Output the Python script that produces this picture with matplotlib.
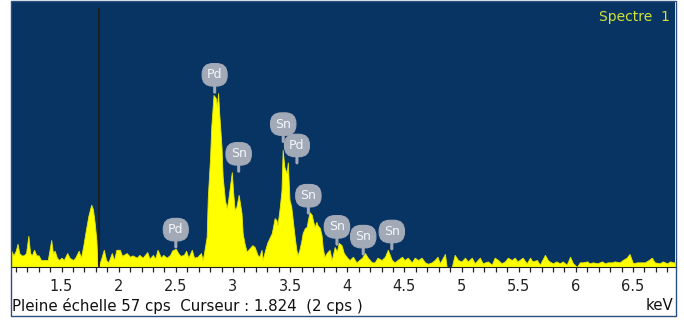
import matplotlib
matplotlib.use("Agg")
import matplotlib.pyplot as plt
from matplotlib.patches import Rectangle
from matplotlib.ticker import MultipleLocator

plt.rcParams['font.family'] = ['DejaVu Sans']

# spectrum: energy (keV) / counts (cps)
energy = [1.06, 1.08, 1.10, 1.115, 1.13, 1.15, 1.17, 1.19, 1.21, 1.225, 1.24, 1.26, 1.28, 1.30,
          1.32, 1.35, 1.38, 1.41, 1.425, 1.44, 1.46, 1.48, 1.50, 1.52, 1.55, 1.57, 1.60, 1.62,
          1.65, 1.67, 1.69, 1.71, 1.735, 1.76, 1.775, 1.79, 1.805, 1.815, 1.83, 1.85, 1.87, 1.89,
          1.91, 1.94, 1.96, 1.98, 2.01, 2.03, 2.07, 2.10, 2.12, 2.16, 2.18, 2.21, 2.25, 2.27,
          2.30, 2.32, 2.34, 2.37, 2.39, 2.42, 2.45, 2.47, 2.50, 2.52, 2.54, 2.57, 2.59, 2.61,
          2.64, 2.66, 2.69, 2.72, 2.735, 2.75, 2.77, 2.78, 2.80, 2.81, 2.83, 2.85, 2.86, 2.87,
          2.88, 2.90, 2.91, 2.93, 2.945, 2.955, 2.97, 2.99, 3.00, 3.015, 3.03, 3.05, 3.075, 3.085,
          3.10, 3.12, 3.145, 3.17, 3.19, 3.215, 3.23, 3.25, 3.26, 3.28, 3.30, 3.34, 3.365, 3.38,
          3.39, 3.41, 3.425, 3.435, 3.45, 3.47, 3.48, 3.495, 3.51, 3.52, 3.54, 3.555, 3.565, 3.58,
          3.60, 3.61, 3.63, 3.645, 3.655, 3.67, 3.69, 3.70, 3.715, 3.73, 3.74, 3.76, 3.775, 3.785,
          3.80, 3.82, 3.845, 3.865, 3.89, 3.91, 3.925, 3.95, 3.97, 4.00, 4.02, 4.05, 4.08, 4.13,
          4.155, 4.18, 4.215, 4.24, 4.265, 4.30, 4.33, 4.355, 4.39, 4.415, 4.44, 4.48, 4.50, 4.53,
          4.565, 4.59, 4.62, 4.65, 4.68, 4.705, 4.74, 4.765, 4.79, 4.81, 4.855, 4.87, 4.915, 4.94,
          4.97, 5.00, 5.03, 5.055, 5.09, 5.115, 5.16, 5.185, 5.23, 5.265, 5.29, 5.32, 5.35, 5.38,
          5.405, 5.44, 5.465, 5.49, 5.535, 5.57, 5.60, 5.62, 5.66, 5.685, 5.73, 5.755, 5.77, 5.80,
          5.83, 5.86, 5.885, 5.92, 5.95, 5.975, 6.01, 6.035, 6.06, 6.10, 6.12, 6.15, 6.19, 6.23,
          6.255, 6.28, 6.315, 6.34, 6.385, 6.41, 6.445, 6.47, 6.50, 6.535, 6.56, 6.605, 6.65, 6.665,
          6.69, 6.735, 6.76, 6.80, 6.825, 6.85, 6.88]
counts = [3.5, 2.5, 3.5, 5.0, 3.0, 2.5, 2.5, 3.0, 6.7, 3.0, 2.5, 3.7, 2.5, 2.5,
          1.5, 1.5, 1.5, 5.8, 3.0, 3.5, 2.0, 1.5, 2.0, 1.5, 3.0, 2.0, 1.5, 2.0,
          3.5, 2.0, 4.5, 7.5, 11.0, 13.4, 12.4, 9.5, 5.8, 0.5, 0.5, 2.0, 3.7, 1.5,
          1.0, 3.0, 1.5, 3.7, 3.7, 2.4, 3.0, 2.2, 2.5, 2.0, 2.6, 2.0, 3.2, 1.8,
          2.6, 1.8, 3.7, 2.0, 2.6, 2.0, 2.6, 3.6, 3.9, 3.0, 2.4, 2.6, 3.5, 2.0,
          3.7, 2.0, 2.2, 3.0, 1.5, 3.5, 6.5, 15.0, 23.6, 30.0, 37.0, 36.3, 34.4, 37.4,
          33.0, 25.8, 19.4, 14.4, 12.7, 13.8, 16.6, 20.4, 16.6, 12.3, 12.9, 15.5, 11.6, 7.3,
          5.2, 3.3, 4.0, 4.7, 4.3, 2.6, 2.2, 3.7, 1.5, 3.5, 5.2, 7.3, 10.5, 10.1,
          9.0, 12.9, 16.5, 25.2, 21.5, 20.2, 22.5, 14.4, 13.0, 10.8, 6.5, 3.7, 2.6, 3.5,
          5.8, 7.3, 8.4, 8.6, 10.0, 11.8, 11.2, 10.0, 8.6, 9.7, 9.0, 8.4, 6.9, 4.3,
          2.2, 3.0, 3.7, 1.5, 4.3, 3.3, 5.2, 4.7, 3.0, 2.0, 1.5, 2.2, 1.0, 2.0,
          3.0, 2.0, 1.0, 1.0, 2.0, 1.5, 2.2, 3.7, 1.5, 1.0, 1.5, 2.2, 1.5, 2.0,
          1.0, 2.0, 1.5, 2.0, 1.0, 0.7, 1.0, 1.5, 2.2, 0.8, 2.8, 0.0, 0.0, 2.6,
          1.5, 1.2, 2.0, 1.2, 2.0, 0.8, 2.0, 0.8, 1.2, 0.5, 2.0, 1.5, 0.8, 1.2,
          2.0, 1.5, 2.0, 1.2, 2.0, 0.8, 2.0, 1.2, 1.5, 0.5, 2.6, 1.5, 1.2, 0.8,
          1.2, 0.8, 1.2, 0.5, 2.2, 0.8, 0.0, 1.0, 1.0, 1.2, 0.8, 1.0, 0.8, 1.2,
          0.8, 1.0, 1.0, 1.2, 1.0, 1.5, 2.0, 2.8, 0.8, 1.0, 1.0, 1.0, 1.7, 2.0,
          1.0, 0.8, 1.2, 0.8, 1.2, 1.0, 1.0]

# element markers: label, energy of stem, cps at stem tip
marker_labels = ['Pd', 'Pd', 'Sn', 'Sn', 'Pd', 'Sn', 'Sn', 'Sn', 'Sn']
marker_energy = [2.50, 2.84, 3.05, 3.44, 3.56, 3.66, 3.91, 4.14, 4.39]
marker_cps = [4.3, 37.6, 20.6, 27.0, 22.4, 11.6, 4.9, 2.8, 3.9]

x_ticks = [1.5, 2, 2.5, 3, 3.5, 4, 4.5, 5, 5.5, 6, 6.5]
full_scale = 57
cursor_kev = 1.824

W, H = 684, 324
fig = plt.figure(figsize=(W / 100, H / 100), dpi=100)
fig.patch.set_facecolor('white')

ax = fig.add_axes([11 / W, 1 - 267 / H, (675 - 11) / W, (267 - 2) / H])
ax.set_facecolor('#083464')
ax.fill_between(energy, counts, 0, color='#ffff00', lw=0.6, edgecolor='#e8e800')
ax.set_xlim(1.058, 6.868)
ax.set_ylim(0, full_scale)

ax.axvline(cursor_kev, ymax=0.975, color='#1c1c1c', lw=1.3)

for lab, e, c in zip(marker_labels, marker_energy, marker_cps):
    ax.annotate(lab, xy=(e, c), xytext=(0, 12.5), textcoords='offset points',
                ha='center', va='center', fontsize=9, color='#f4f6fa',
                bbox=dict(boxstyle='round,pad=0.38,rounding_size=0.85', fc='#a2aab8',
                          ec='#a2aab8', lw=0.8),
                arrowprops=dict(arrowstyle='-', color='#a2aab8', lw=2.2, shrinkA=0, shrinkB=0))

ax.text(0.993, 0.943, 'Spectre  1', transform=ax.transAxes, ha='right', va='center',
        fontsize=10, color='#d2e232')

for s in ['top', 'right', 'left']:
    ax.spines[s].set_visible(False)
ax.spines['bottom'].set_color('#222222')
ax.set_yticks([])
ax.set_xticks(x_ticks)
ax.set_xticklabels([('%g' % t) for t in x_ticks])
ax.xaxis.set_minor_locator(MultipleLocator(0.1))
ax.tick_params(axis='x', which='both', direction='out', length=3.5, width=0.9,
               color='#222222', labelsize=10.5, labelcolor='#222222', pad=5)

fig.text(12 / W, 1 - 306 / H, 'Pleine échelle 57 cps  Curseur : 1.824  (2 cps )',
         ha='left', va='center', fontsize=10.8, color='#111111')
fig.text(673 / W, 1 - 306 / H, 'keV', ha='right', va='center', fontsize=10.8, color='#111111')

fig.patches.append(Rectangle((11 / W, 1 - 316 / H), (676 - 11) / W, 315 / H,
                             transform=fig.transFigure, fill=False, ec='#2b4f80', lw=1))

fig.savefig('out.png', dpi=100)
